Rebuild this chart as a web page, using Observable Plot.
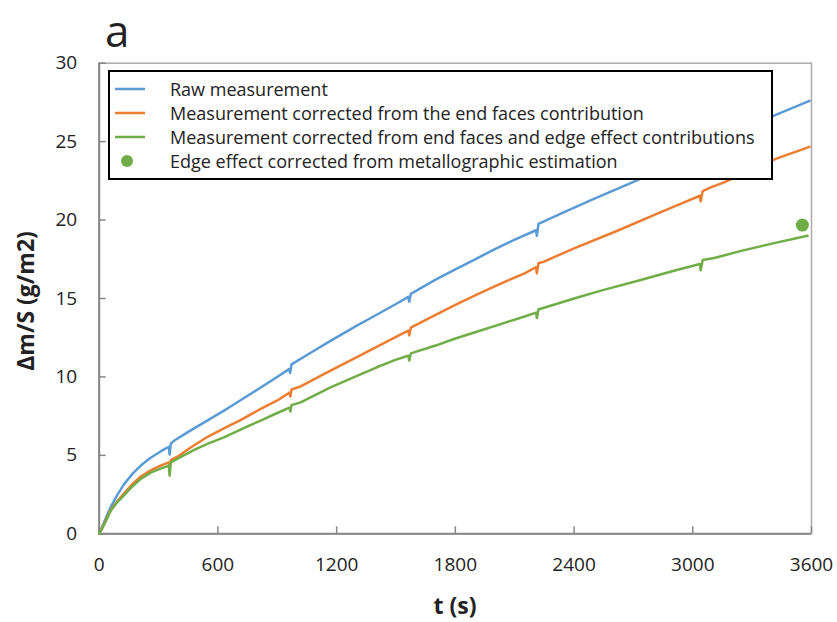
<!DOCTYPE html>
<html>
<head>
<meta charset="utf-8">
<script src="https://cdn.jsdelivr.net/npm/d3@7"></script>
<script src="https://cdn.jsdelivr.net/npm/@observablehq/plot@0.6"></script>
<style>
  html, body { margin: 0; padding: 0; background: #fff; }
  #wrap { position: relative; width: 837px; height: 622px; font-family: "Open Sans", sans-serif; color: #222; }
  #wrap svg { position: absolute; left: 0; top: 0; }
  .panel { position: absolute; left: 105px; top: 0px; font-size: 44px; line-height: normal; }
  .xtitle { position: absolute; left: 0; width: 910px; top: 590px; text-align: center; font-weight: bold; font-size: 23px; line-height: 30px; }
  .ytitle { position: absolute; left: 25px; top: 301px; transform: translate(-50%, -50%) rotate(-90deg); white-space: nowrap; font-weight: bold; font-size: 23px; line-height: 30px; }
  .legend { position: absolute; left: 108px; top: 70px; width: 661px; height: 106px; border: 2px solid #000; background: #fff; box-sizing: content-box; }
  .legend .row { position: absolute; left: 0; width: 661px; height: 24px; }
  .legend .sw { position: absolute; left: 5px; top: 0; width: 30px; height: 24px; }
  .legend .tx { position: absolute; left: 60px; top: 0; height: 24px; line-height: 24px; font-size: 18px; white-space: nowrap; }
</style>
</head>
<body>
<div id="wrap"></div>
<script>
// ---- data ----
const xTicks = [0, 600, 1200, 1800, 2400, 3000, 3600];
const yTicks = [0, 5, 10, 15, 20, 25, 30];

const seriesNames = [
  "Raw measurement",
  "Measurement corrected from the end faces contribution",
  "Measurement corrected from end faces and edge effect contributions",
  "Edge effect corrected from metallographic estimation"
];
const seriesColors = ["#5b9bd5", "#ed7d31", "#70ad47", "#70ad47"];

const tRaw = [0, 20, 40, 60, 90, 125, 170, 210, 260, 310, 352, 356, 362, 380, 450, 550, 650, 750, 850, 960, 965, 972, 1050, 1169, 1300, 1400, 1500, 1562, 1567, 1575, 1700, 1800, 1900, 2000, 2100, 2208, 2212, 2220, 2350, 2500, 2686, 2800, 2950, 3033, 3037, 3045, 3200, 3419, 3590];
const vRaw = [0, 0.6, 1.2, 1.75, 2.45, 3.15, 3.85, 4.35, 4.85, 5.25, 5.55, 5.05, 5.75, 5.95, 6.5, 7.25, 8.0, 8.8, 9.6, 10.5, 10.25, 10.8, 11.4, 12.3, 13.25, 13.95, 14.65, 15.1, 14.8, 15.3, 16.2, 16.85, 17.5, 18.15, 18.75, 19.35, 19.0, 19.75, 20.5, 21.35, 22.35, 23.0, 23.8, 24.25, 23.9, 24.6, 25.5, 26.7, 27.6];

const tEnd = [0, 20, 40, 60, 90, 124, 170, 210, 260, 310, 352, 356, 362, 400, 462, 550, 650, 714, 816, 900, 962, 966, 972, 1018, 1169, 1300, 1400, 1500, 1562, 1567, 1575, 1700, 1800, 1900, 2029, 2150, 2208, 2212, 2220, 2248, 2400, 2619, 2800, 2950, 3036, 3040, 3050, 3091, 3158, 3300, 3419, 3590];
const vEnd = [0, 0.5, 1.05, 1.55, 2.05, 2.55, 3.2, 3.65, 4.05, 4.35, 4.55, 4.3, 4.7, 4.95, 5.5, 6.2, 6.85, 7.25, 7.96, 8.5, 9.0, 8.75, 9.2, 9.4, 10.4, 11.25, 11.9, 12.55, 12.95, 12.65, 13.15, 13.95, 14.6, 15.2, 15.95, 16.6, 17.0, 16.6, 17.25, 17.35, 18.2, 19.32, 20.3, 21.1, 21.55, 21.2, 21.85, 22.08, 22.4, 23.2, 23.9, 24.67];

const tEdge = [0, 20, 40, 60, 90, 124, 170, 210, 260, 310, 352, 356, 362, 394, 480, 550, 630, 750, 816, 900, 962, 966, 972, 1018, 1169, 1300, 1400, 1500, 1562, 1567, 1575, 1700, 1800, 1900, 2029, 2150, 2208, 2212, 2220, 2400, 2550, 2737, 2900, 3036, 3040, 3050, 3108, 3250, 3400, 3580];
const vEdge = [0, 0.45, 1.0, 1.5, 2.0, 2.44, 3.05, 3.5, 3.9, 4.15, 4.35, 3.7, 4.55, 4.78, 5.35, 5.75, 6.15, 6.85, 7.22, 7.7, 8.05, 7.8, 8.2, 8.38, 9.34, 10.05, 10.6, 11.1, 11.35, 11.05, 11.5, 12.0, 12.45, 12.85, 13.37, 13.85, 14.1, 13.75, 14.3, 15.0, 15.55, 16.18, 16.75, 17.2, 16.8, 17.45, 17.58, 18.05, 18.5, 19.0];

const tMetallo = [3554];
const vMetallo = [19.68];

// ---- build tables ----
const rows = (ts, vs) => ts.map((t, i) => ({t, v: vs[i]}));
const raw = rows(tRaw, vRaw);
const endC = rows(tEnd, vEnd);
const edgeC = rows(tEdge, vEdge);
const metallo = rows(tMetallo, vMetallo);

const W = 837, H = 622;
const mL = 98.7, mR = 26, mT = 62.7, mB = 88.7;
const innerW = W - mL - mR, innerH = H - mT - mB;
const font = "Open Sans, sans-serif";

const chart = Plot.plot({
  width: W, height: H,
  marginLeft: mL, marginRight: mR, marginTop: mT, marginBottom: mB,
  style: {fontFamily: font, fontSize: "19px", color: "#222", background: "transparent"},
  x: {domain: [0, 3600]},
  y: {domain: [0, 30]},
  marks: [
    Plot.frame({stroke: "#ababab", strokeWidth: 1.5}),
    Plot.ruleX(xTicks, {x: d => d, insetTop: innerH - 7, stroke: "#868686", strokeWidth: 1.5}),
    Plot.ruleY(yTicks, {y: d => d, insetRight: innerW - 7, stroke: "#868686", strokeWidth: 1.5}),
    Plot.ruleX([0], {stroke: "#868686", strokeWidth: 2}),
    Plot.ruleY([0], {stroke: "#868686", strokeWidth: 2}),
    Plot.line(raw, {x: "t", y: "v", stroke: seriesColors[0], strokeWidth: 2.5}),
    Plot.line(endC, {x: "t", y: "v", stroke: seriesColors[1], strokeWidth: 2.5}),
    Plot.line(edgeC, {x: "t", y: "v", stroke: seriesColors[2], strokeWidth: 2.5}),
    Plot.dot(metallo, {x: "t", y: "v", r: 6.5, fill: seriesColors[3], stroke: "none"}),
    Plot.axisX({ticks: xTicks, tickSize: 0, tickPadding: 24, tickFormat: d => String(d), label: null, fontSize: 19}),
    Plot.axisY({ticks: yTicks, tickSize: 0, tickPadding: 22, tickFormat: d => String(d), label: null, fontSize: 19})
  ]
});

const wrap = document.getElementById("wrap");
wrap.appendChild(chart);

const a = document.createElement("div");
a.className = "panel"; a.textContent = "a";
wrap.appendChild(a);

const xt = document.createElement("div");
xt.className = "xtitle"; xt.textContent = "t (s)";
wrap.appendChild(xt);

const yt = document.createElement("div");
yt.className = "ytitle"; yt.textContent = "Δm/S (g/m2)";
wrap.appendChild(yt);

const lg = document.createElement("div");
lg.className = "legend";
seriesNames.forEach((name, i) => {
  const r = document.createElement("div");
  r.className = "row";
  r.style.top = (5 + i * 24) + "px";
  const sw = document.createElement("div");
  sw.className = "sw";
  sw.innerHTML = i < 3
    ? `<svg width="30" height="24"><line x1="0" y1="12" x2="30" y2="12" stroke="${seriesColors[i]}" stroke-width="2.5"/></svg>`
    : `<svg width="30" height="24"><circle cx="12" cy="12" r="6" fill="${seriesColors[i]}"/></svg>`;
  const tx = document.createElement("div");
  tx.className = "tx";
  tx.textContent = name;
  r.appendChild(sw); r.appendChild(tx);
  lg.appendChild(r);
});
wrap.appendChild(lg);
</script>
</body>
</html>
